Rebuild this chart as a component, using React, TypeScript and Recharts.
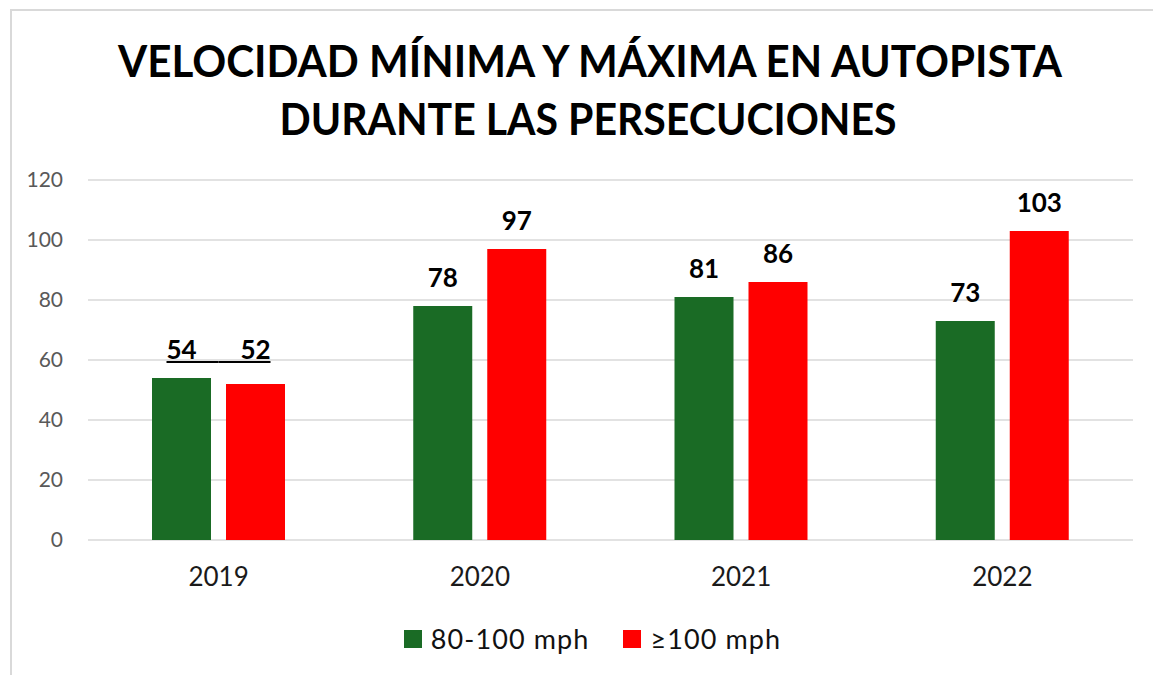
import React from "react";
import { BarChart, Bar, XAxis, YAxis, CartesianGrid, LabelList } from "recharts";

const years = ["2019", "2020", "2021", "2022"];
const speed80to100 = [54, 78, 81, 73];
const speedOver100 = [52, 97, 86, 103];
const yTicks = [0, 20, 40, 60, 80, 100, 120];
const seriesNames = ["80-100 mph", "≥100 mph"];
const seriesColors = ["#1a6b25", "#ff0000"];
const underlinedYears = ["2019"];
const titleLines = ["VELOCIDAD MÍNIMA Y MÁXIMA EN AUTOPISTA", "DURANTE LAS PERSECUCIONES"];

const data = years.map((y, i) => ({ year: y, a: speed80to100[i], b: speedOver100[i] }));

const FONT = "Lato, 'Open Sans', 'Noto Sans', sans-serif";

const makeLabel = (side: "left" | "right") => (props: any) => {
  const { x, y, width, height, value, index } = props;
  const cx = x + width / 2;
  const under = underlinedYears.includes(years[index]);
  let top = y;
  if (under && value > 0) {
    // underlined pair shares one baseline, at the taller bar of the group
    const maxVal = Math.max(speed80to100[index], speedOver100[index]);
    top = y + height - (maxVal * height) / value;
  }
  const baseY = top - 19;
  return (
    <g>
      <text x={cx} y={baseY} textAnchor="middle" fontSize={26} fontWeight="bold" fill="#000" fontFamily={FONT}>
        {value}
      </text>
      {under && (
        <line
          x1={side === "left" ? cx - 15 : x - 7.5}
          x2={side === "left" ? x + width + 7.5 : cx + 15}
          y1={baseY + 3}
          y2={baseY + 3}
          stroke="#000"
          strokeWidth={2}
        />
      )}
    </g>
  );
};

export default function App() {
  return (
    <div style={{ position: "fixed", left: 0, top: 0, width: 1153, height: 675, background: "#fff", overflow: "hidden" }}>
      <div style={{ position: "absolute", left: 10, top: 9, width: 1200, height: 720, border: "2px solid #d9d9d9", boxSizing: "border-box" }} />
      <svg style={{ position: "absolute", left: 0, top: 0 }} width={1153} height={160}>
        <text x={590} y={77} textAnchor="middle" fontSize={44} fontWeight="bold" fontFamily={FONT} fill="#000" textLength={944} lengthAdjust="spacingAndGlyphs">
          {titleLines[0]}
        </text>
        <text x={588} y={135} textAnchor="middle" fontSize={44} fontWeight="bold" fontFamily={FONT} fill="#000" textLength={617} lengthAdjust="spacingAndGlyphs">
          {titleLines[1]}
        </text>
      </svg>
      <div style={{ position: "absolute", left: 0, top: 0 }}>
        <BarChart width={1153} height={675} data={data} margin={{ top: 180, right: 20, left: 28, bottom: 105 }} barGap={15} barSize={59}>
          <CartesianGrid vertical={false} stroke="#d9d9d9" strokeWidth={1.5} />
          <XAxis
            dataKey="year"
            axisLine={false}
            tickLine={false}
            tickMargin={22}
            tick={{ fill: "#1a1a1a", fontSize: 26, fontFamily: FONT }}
          />
          <YAxis
            width={60}
            domain={[0, 120]}
            ticks={yTicks}
            axisLine={false}
            tickLine={false}
            tickMargin={19}
            tick={{ fill: "#595959", fontSize: 21, fontFamily: FONT }}
          />
          <Bar dataKey="a" name={seriesNames[0]} fill={seriesColors[0]} isAnimationActive={false}>
            <LabelList dataKey="a" content={makeLabel("left")} />
          </Bar>
          <Bar dataKey="b" name={seriesNames[1]} fill={seriesColors[1]} isAnimationActive={false}>
            <LabelList dataKey="b" content={makeLabel("right")} />
          </Bar>
        </BarChart>
      </div>
      <div style={{ position: "absolute", left: 16, top: 622, width: 1153, display: "flex", justifyContent: "center", alignItems: "center", fontFamily: FONT, fontSize: 27, letterSpacing: 1.1, color: "#111", lineHeight: "34px" }}>
        {seriesNames.map((n, i) => (
          <div key={n} style={{ display: "flex", alignItems: "center", marginLeft: i === 0 ? 0 : 34 }}>
            <div style={{ width: 18, height: 18, background: seriesColors[i], marginRight: 9 }} />
            <span>{n}</span>
          </div>
        ))}
      </div>
    </div>
  );
}
